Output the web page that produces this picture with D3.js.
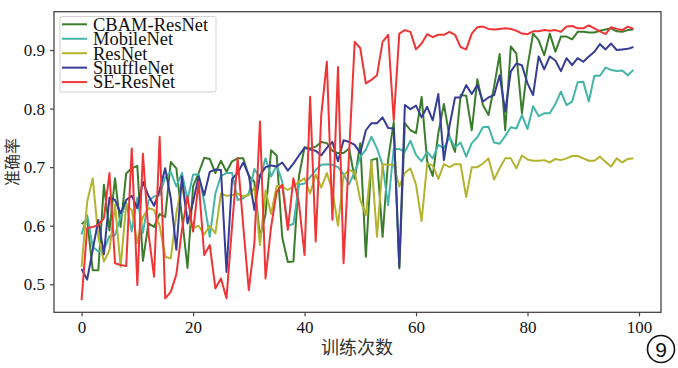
<!DOCTYPE html>
<html><head><meta charset="utf-8">
<script src="https://cdn.jsdelivr.net/npm/d3@7"></script>
<style>body{margin:0;background:#fff}svg{display:block}</style>
</head><body>
<svg id="c" width="678" height="368"></svg>
<script>
const seriesNames = ["CBAM-ResNet","MobileNet","ResNet","ShuffleNet","SE-ResNet"];
const seriesColors = ["#3b7d2c","#45b5a9","#b3b330","#373c95","#ef3535"];
const xTicks = [0,20,40,60,80,100];
const yTicks = [0.5,0.6,0.7,0.8,0.9];
const cbam = [0.603,0.61,0.524,0.524,0.67,0.592,0.681,0.598,0.689,0.698,0.702,0.54,0.604,0.598,0.62,0.615,0.709,0.698,0.615,0.528,0.667,0.69,0.716,0.714,0.69,0.711,0.692,0.71,0.715,0.715,0.685,0.675,0.58,0.62,0.729,0.72,0.58,0.538,0.539,0.685,0.734,0.732,0.735,0.743,0.741,0.728,0.724,0.724,0.732,0.68,0.741,0.547,0.712,0.715,0.581,0.713,0.777,0.527,0.775,0.763,0.758,0.82,0.71,0.685,0.758,0.808,0.752,0.726,0.823,0.822,0.763,0.85,0.806,0.789,0.837,0.893,0.763,0.906,0.894,0.792,0.872,0.928,0.917,0.891,0.928,0.897,0.923,0.923,0.918,0.931,0.931,0.93,0.93,0.933,0.935,0.937,0.932,0.931,0.934,0.935];
const mobile = [0.585,0.618,0.564,0.556,0.56,0.582,0.584,0.615,0.64,0.59,0.648,0.588,0.643,0.65,0.652,0.683,0.692,0.667,0.69,0.644,0.687,0.688,0.64,0.581,0.655,0.685,0.69,0.69,0.644,0.647,0.655,0.697,0.682,0.715,0.684,0.703,0.675,0.6,0.603,0.67,0.672,0.683,0.695,0.704,0.705,0.704,0.7,0.688,0.671,0.692,0.717,0.73,0.752,0.732,0.704,0.635,0.731,0.731,0.726,0.745,0.721,0.71,0.726,0.715,0.738,0.732,0.751,0.734,0.742,0.718,0.741,0.751,0.768,0.769,0.742,0.74,0.753,0.768,0.766,0.789,0.765,0.804,0.787,0.792,0.792,0.808,0.829,0.806,0.812,0.845,0.846,0.812,0.856,0.856,0.87,0.866,0.864,0.865,0.857,0.866];
const resnet = [0.53,0.641,0.681,0.581,0.539,0.558,0.636,0.53,0.636,0.627,0.57,0.615,0.63,0.627,0.6,0.547,0.544,0.621,0.672,0.613,0.596,0.6,0.585,0.6,0.587,0.655,0.651,0.652,0.655,0.65,0.652,0.665,0.567,0.66,0.62,0.668,0.667,0.661,0.667,0.675,0.681,0.655,0.687,0.665,0.69,0.66,0.6,0.686,0.695,0.692,0.644,0.618,0.71,0.581,0.705,0.704,0.704,0.667,0.69,0.698,0.67,0.608,0.706,0.703,0.68,0.705,0.7,0.705,0.705,0.649,0.7,0.7,0.706,0.715,0.679,0.698,0.715,0.715,0.698,0.72,0.713,0.711,0.711,0.712,0.708,0.714,0.712,0.715,0.719,0.719,0.715,0.711,0.711,0.718,0.709,0.701,0.715,0.708,0.714,0.715];
const shuffle = [0.526,0.508,0.559,0.61,0.551,0.648,0.644,0.621,0.644,0.651,0.63,0.675,0.651,0.634,0.661,0.698,0.647,0.559,0.684,0.604,0.64,0.684,0.652,0.692,0.696,0.695,0.521,0.68,0.69,0.708,0.686,0.627,0.686,0.7,0.703,0.701,0.708,0.694,0.706,0.72,0.733,0.73,0.728,0.72,0.733,0.743,0.71,0.746,0.743,0.738,0.724,0.763,0.775,0.775,0.785,0.767,0.766,0.53,0.806,0.799,0.805,0.785,0.803,0.78,0.825,0.712,0.77,0.819,0.819,0.84,0.825,0.84,0.812,0.819,0.823,0.857,0.795,0.863,0.877,0.874,0.843,0.823,0.889,0.867,0.889,0.882,0.864,0.886,0.874,0.886,0.88,0.889,0.897,0.91,0.901,0.911,0.9,0.901,0.902,0.905];
const seresnet = [0.473,0.596,0.598,0.601,0.613,0.69,0.536,0.533,0.531,0.732,0.499,0.723,0.587,0.513,0.752,0.476,0.487,0.517,0.593,0.65,0.59,0.675,0.55,0.567,0.493,0.51,0.476,0.6,0.715,0.6,0.49,0.57,0.778,0.51,0.598,0.658,0.67,0.593,0.681,0.638,0.55,0.82,0.573,0.789,0.88,0.61,0.871,0.536,0.725,0.914,0.903,0.843,0.849,0.857,0.914,0.926,0.78,0.928,0.934,0.931,0.901,0.911,0.927,0.922,0.926,0.926,0.931,0.926,0.905,0.901,0.928,0.939,0.94,0.936,0.935,0.936,0.937,0.936,0.933,0.928,0.927,0.932,0.932,0.934,0.933,0.934,0.931,0.94,0.941,0.937,0.937,0.942,0.937,0.932,0.927,0.939,0.936,0.934,0.94,0.936];
const allSeries = [cbam, mobile, resnet, shuffle, seresnet];

const svg = d3.select("#c");
const L = 54, R = 661, T = 11.7, B = 312.3;
const x = d3.scaleLinear().domain([-4.95, 103.95]).range([L, R]);
const y = d3.scaleLinear().domain([0.4522, 0.9654]).range([B, T]);
const serif = "'Liberation Serif','Times New Roman',serif";

// lines
const line = d3.line().x((d,i)=>x(i)).y(d=>y(d));
allSeries.forEach((s,k)=>{
  svg.append("path").datum(s).attr("d", line)
    .attr("fill","none").attr("stroke", seriesColors[k])
    .attr("stroke-width", 2).attr("stroke-linejoin","round");
});

// axes
const xa = svg.append("g").attr("transform",`translate(0,${B})`)
  .call(d3.axisBottom(x).tickValues(xTicks).tickFormat(d3.format("d")).tickSize(4).tickPadding(5).tickSizeOuter(0));
const ya = svg.append("g").attr("transform",`translate(${L},0)`)
  .call(d3.axisLeft(y).tickValues(yTicks).tickFormat(d3.format(".1f")).tickSize(4).tickPadding(5).tickSizeOuter(0));
[xa,ya].forEach(g=>{
  g.select(".domain").remove();
  g.selectAll(".tick line").attr("stroke","#4a4444").attr("stroke-width",1.2);
  g.selectAll(".tick text").attr("font-family",serif).attr("font-size",17).attr("fill","#111");
});

// frame
svg.append("rect").attr("x",L).attr("y",T).attr("width",R-L).attr("height",B-T)
  .attr("fill","none").attr("stroke","#4a4444").attr("stroke-width",1.3);

// legend
const lg = svg.append("g");
lg.append("rect").attr("x",60).attr("y",16.5).attr("width",156).attr("height",75.5).attr("rx",2)
  .attr("fill","#fff").attr("fill-opacity",0.85).attr("stroke","#d6d0d0").attr("stroke-width",1);
seriesNames.forEach((n,k)=>{
  const yy = 24.3 + k*14.45;
  lg.append("line").attr("x1",62).attr("x2",87).attr("y1",yy).attr("y2",yy)
    .attr("stroke",seriesColors[k]).attr("stroke-width",2);
  lg.append("text").attr("x",93).attr("y",yy+6.3).text(n)
    .attr("font-family",serif).attr("font-size",18.5).attr("fill","#111");
});

// axis labels
svg.append("text").attr("x",357).attr("y",354).attr("text-anchor","middle")
  .attr("font-family","'Noto Sans CJK SC',sans-serif").attr("font-size",18).attr("fill","#333").text("训练次数");
svg.append("text").attr("transform","translate(18,162) rotate(-90)").attr("text-anchor","middle")
  .attr("font-family","'Noto Sans CJK SC',sans-serif").attr("font-size",16).attr("fill","#333").text("准确率");

// circled number
svg.append("circle").attr("cx",661).attr("cy",349).attr("r",13.5).attr("fill","none").attr("stroke","#111").attr("stroke-width",1.6);
svg.append("text").attr("x",661).attr("y",356.5).attr("text-anchor","middle")
  .attr("font-family","'Liberation Sans',Arial,sans-serif").attr("font-size",21).attr("fill","#111").text("9");
</script>
</body></html>
